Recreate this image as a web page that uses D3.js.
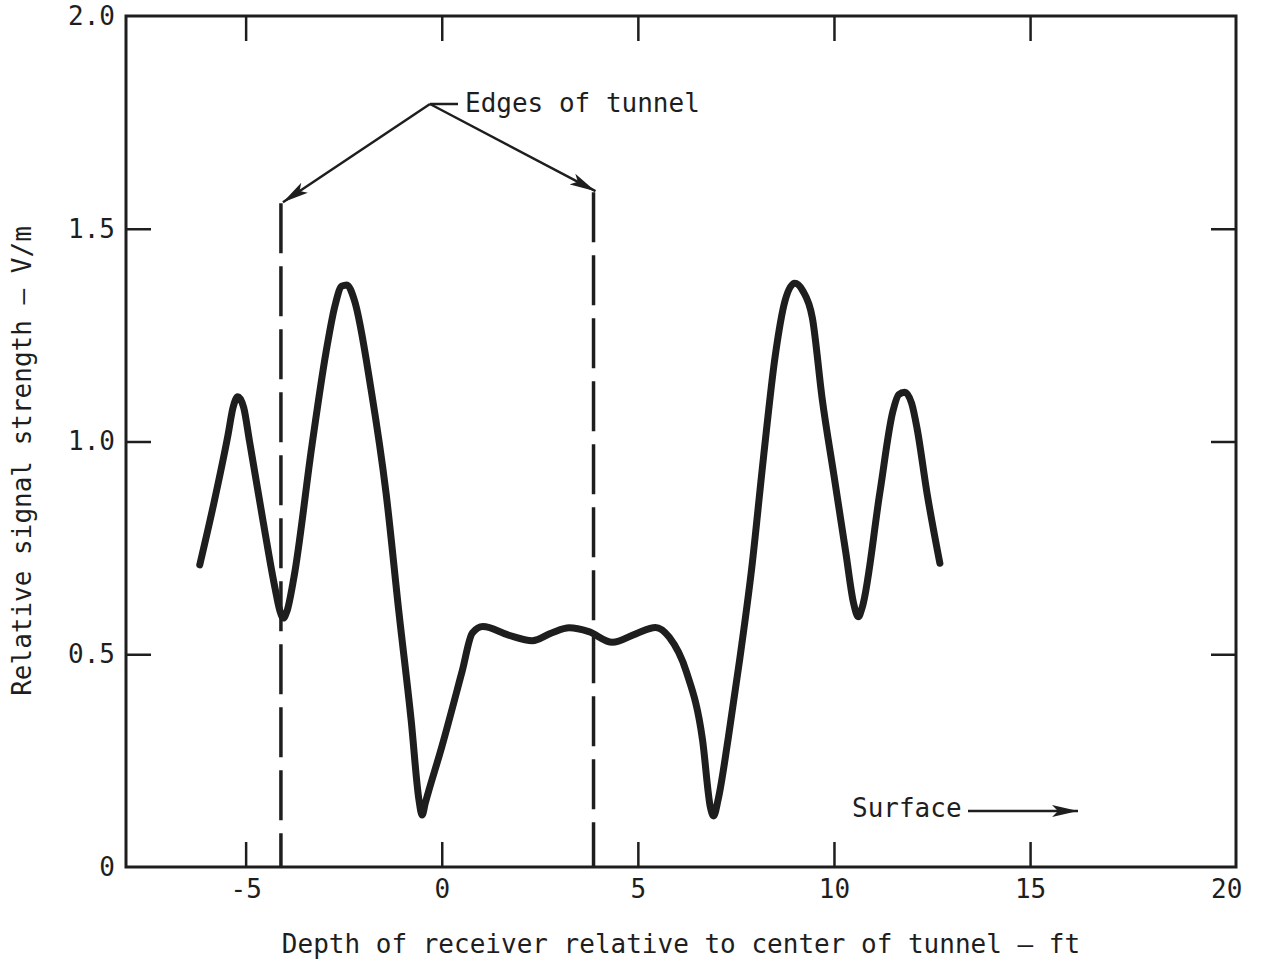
<!DOCTYPE html>
<html>
<head>
<meta charset="utf-8">
<script src="https://cdn.jsdelivr.net/npm/d3@7"></script>
<style>
  html, body { margin: 0; padding: 0; background: #fff; }
  svg { display: block; }
  text { font-family: "DejaVu Sans Mono", "Liberation Mono", monospace; fill: #1e1e1e; }
</style>
</head>
<body>
<svg id="chart" width="1265" height="963"></svg>
<script>
// ---- data ----
const depthFt = [
  -6.17, -5.81, -5.45, -5.32, -5.20, -5.05, -4.90, -4.55, -4.25, -4.12, -4.04, -3.95, -3.77,
  -3.31, -2.95, -2.72, -2.55, -2.42, -2.23, -1.80, -1.42, -1.09, -0.78, -0.58, -0.50,
  -0.42, 0.00, 0.52, 0.78, 1.05, 1.70, 2.31, 2.80, 3.25, 3.75, 4.35, 4.95, 5.45, 5.80,
  6.24, 6.65, 6.85, 6.93, 7.05, 7.30, 7.60, 7.90, 8.20, 8.50, 8.75, 9.00, 9.20, 9.45,
  9.70, 10.00, 10.30, 10.50, 10.62, 10.72, 11.17, 11.50, 11.65, 11.80, 11.98, 12.12, 12.37, 12.70
];
const signalVm = [
  0.71, 0.855, 1.015, 1.08, 1.105, 1.08, 1.00, 0.81, 0.655, 0.60, 0.585, 0.60, 0.68,
  0.99, 1.21, 1.32, 1.365, 1.368, 1.333, 1.121, 0.879, 0.597, 0.345, 0.157, 0.122,
  0.15, 0.282, 0.46, 0.55, 0.565, 0.545, 0.532, 0.55, 0.562, 0.553, 0.528, 0.548, 0.563, 0.54,
  0.458, 0.298, 0.14, 0.12, 0.16, 0.30, 0.49, 0.70, 0.96, 1.20, 1.33, 1.372, 1.355, 1.29,
  1.10, 0.92, 0.74, 0.62, 0.588, 0.61, 0.88, 1.07, 1.11, 1.116, 1.09, 1.03, 0.88, 0.714
];
const tunnelEdges = [-4.10, 3.87];
const tunnelEdgeTops = [1.56, 1.586];
const xTicks = [-5, 0, 5, 10, 15, 20];
const yTicks = [0, 0.5, 1.0, 1.5, 2.0];
const yTickLabels = ["0", "0.5", "1.0", "1.5", "2.0"];
const xTitle = "Depth of receiver relative to center of tunnel \u2014 ft";
const yTitle = "Relative signal strength \u2014 V/m";
const edgeNote = "Edges of tunnel";
const surfaceNote = "Surface";

// ---- layout ----
const svg = d3.select("#chart");
const L = 126, R = 1236, T = 16, B = 867;
const x = d3.scaleLinear().domain([-8.05, 20.25]).range([L, R]);
const y = d3.scaleLinear().domain([0, 2]).range([B, T]);
const ink = "#1e1e1e";
const fs = 26;

svg.append("defs").append("marker")
  .attr("id", "arrow").attr("viewBox", "0 0 26 14").attr("refX", 26).attr("refY", 7)
  .attr("markerWidth", 26).attr("markerHeight", 14).attr("markerUnits", "userSpaceOnUse")
  .attr("orient", "auto")
  .append("path").attr("d", "M0,1 L26,7 L0,13 L6,7 Z").attr("fill", ink);

// frame
svg.append("rect").attr("x", L).attr("y", T).attr("width", R - L).attr("height", B - T)
  .attr("fill", "none").attr("stroke", ink).attr("stroke-width", 3);

// axes
const styleAxis = g => {
  g.select(".domain").remove();
  g.selectAll(".tick line").attr("stroke", ink).attr("stroke-width", 2.5);
  g.selectAll(".tick text").attr("fill", ink).style("font-size", fs + "px")
    .style("font-family", "'DejaVu Sans Mono', monospace");
};
svg.append("g").attr("transform", `translate(0,${B})`)
  .call(d3.axisBottom(x).tickValues(xTicks).tickSizeInner(-25).tickSizeOuter(0).tickPadding(13)
    .tickFormat(d => String(d)))
  .call(styleAxis)
  .call(g => g.selectAll(".tick").filter(d => d === 20).select("line").remove());
svg.append("g").attr("transform", `translate(0,${T})`)
  .call(d3.axisTop(x).tickValues(xTicks.filter(d => d < 20)).tickSizeInner(-25).tickSizeOuter(0).tickFormat(""))
  .call(styleAxis);
svg.append("g").attr("transform", `translate(${L},0)`)
  .call(d3.axisLeft(y).tickValues(yTicks).tickSizeInner(-25).tickSizeOuter(0).tickPadding(11)
    .tickFormat((d, i) => yTickLabels[i]))
  .call(styleAxis)
  .call(g => g.selectAll(".tick").filter(d => d === 0 || d === 2).select("line").remove());
svg.append("g").attr("transform", `translate(${R},0)`)
  .call(d3.axisRight(y).tickValues(yTicks.filter(d => d > 0 && d < 2)).tickSizeInner(-25).tickSizeOuter(0).tickFormat(""))
  .call(styleAxis);

// axis titles
svg.append("text").attr("x", 681).attr("y", 953).attr("text-anchor", "middle")
  .style("font-size", fs + "px").text(xTitle);
svg.append("text").attr("transform", `translate(31,${461}) rotate(-90)`).attr("text-anchor", "middle")
  .style("font-size", fs + "px").text(yTitle);

// tunnel edge dashed lines
tunnelEdges.forEach((e, i) => {
  svg.append("line").attr("x1", x(e)).attr("x2", x(e)).attr("y1", y(tunnelEdgeTops[i])).attr("y2", B)
    .attr("stroke", ink).attr("stroke-width", 3.5).attr("stroke-dasharray", "50,13");
});

// annotation: edges of tunnel
const hub = [430, 104];
svg.append("line").attr("x1", hub[0]).attr("y1", hub[1]).attr("x2", 458).attr("y2", hub[1])
  .attr("stroke", ink).attr("stroke-width", 2.5);
tunnelEdges.forEach((e, i) => {
  svg.append("line").attr("x1", hub[0]).attr("y1", hub[1])
    .attr("x2", x(e) + 2).attr("y2", y(tunnelEdgeTops[i]) - 1)
    .attr("stroke", ink).attr("stroke-width", 2.5).attr("marker-end", "url(#arrow)");
});
svg.append("text").attr("x", 465).attr("y", 112).style("font-size", fs + "px").text(edgeNote);

// annotation: surface
svg.append("text").attr("x", 852).attr("y", 817).style("font-size", fs + "px").text(surfaceNote);
svg.append("line").attr("x1", 968).attr("y1", 811).attr("x2", 1078).attr("y2", 811)
  .attr("stroke", ink).attr("stroke-width", 2.5).attr("marker-end", "url(#arrow)");

// curve
const pts = depthFt.map((d, i) => [d, signalVm[i]]);
const line = d3.line().x(d => x(d[0])).y(d => y(d[1])).curve(d3.curveMonotoneX);
svg.append("path").attr("d", line(pts)).attr("fill", "none").attr("stroke", ink)
  .attr("stroke-width", 7).attr("stroke-linejoin", "round").attr("stroke-linecap", "round");
</script>
</body>
</html>
